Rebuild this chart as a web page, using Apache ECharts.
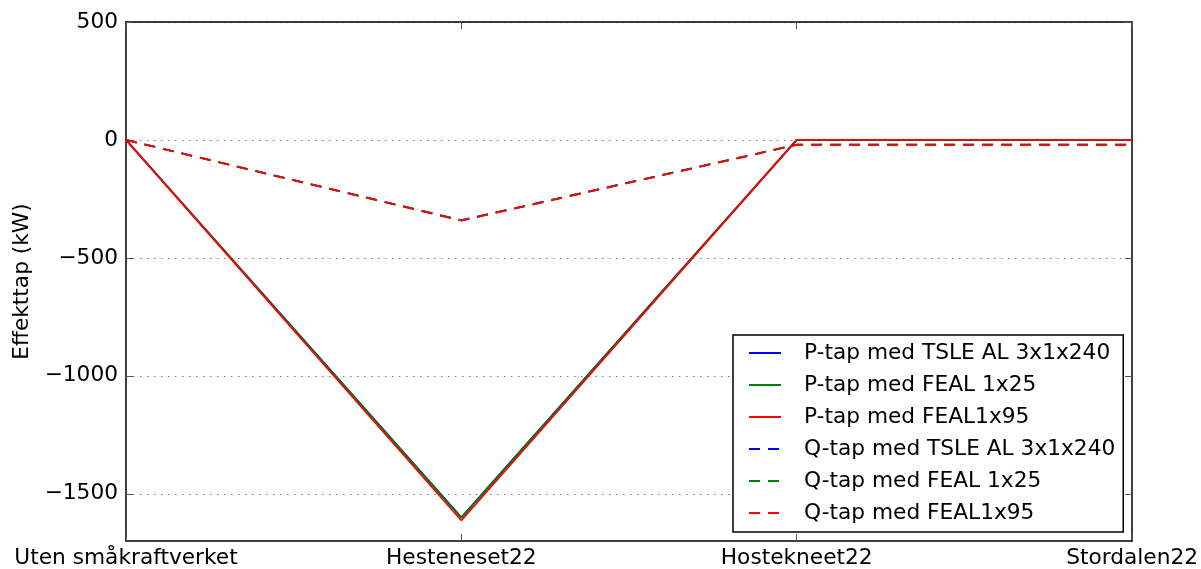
<!DOCTYPE html>
<html>
<head>
<meta charset="utf-8">
<script src="https://cdn.jsdelivr.net/npm/echarts@6/dist/echarts.min.js"></script>
<style>html,body{margin:0;padding:0;background:#fff;}#c{width:1201px;height:569px;}</style>
</head>
<body>
<div id="c"></div>
<script>
const categories = ['Uten småkraftverket', 'Hesteneset22', 'Hostekneet22', 'Stordalen22'];
const pTapTSLE = [0, -1600, 0, 0];
const pTapFEAL25 = [0, -1602, 0, 0];
const pTapFEAL95 = [0, -1613, 0, 0];
const qTapTSLE = [0, -340, -20, -20];
const qTapFEAL25 = [0, -341, -20, -20];
const qTapFEAL95 = [0, -342, -21, -21];
const yTicks = [-1500, -1000, -500, 0, 500];
const seriesNames = ['P-tap med TSLE AL 3x1x240', 'P-tap med FEAL 1x25', 'P-tap med FEAL1x95',
  'Q-tap med TSLE AL 3x1x240', 'Q-tap med FEAL 1x25', 'Q-tap med FEAL1x95'];

const FONT = 'DejaVu Sans';
const FS = 21.7;
const dash = [11, 8];
function mk(name, data, color, dashed) {
  return {
    name: name, type: 'line', data: data, symbol: 'none', animation: false,
    lineStyle: { color: color, width: 1.8, type: dashed ? dash : 'solid' },
    itemStyle: { color: color }
  };
}
const chart = echarts.init(document.getElementById('c'), null, { renderer: 'canvas' });
chart.setOption({
  backgroundColor: '#fff',
  animation: false,
  grid: { left: 126, right: 67, top: 22, bottom: 27, containLabel: false },
  legend: {
    left: 733, top: 335, orient: 'vertical',
    borderColor: '#000', borderWidth: 1.5, backgroundColor: '#fff',
    padding: [7, 8, 8, 15],
    itemWidth: 32, itemHeight: 22, itemGap: 10,
    itemStyle: { color: 'rgba(0,0,0,0)', borderWidth: 0, opacity: 0 },
    textStyle: { fontFamily: FONT, fontSize: FS, color: '#000', lineHeight: 22, padding: [0, 0, 0, 18] },
    data: seriesNames
  },
  xAxis: [{
    type: 'category', data: categories, boundaryGap: false, position: 'bottom',
    axisLine: { onZero: false, lineStyle: { color: '#000', width: 1.5 } },
    axisTick: { inside: true, length: 7, lineStyle: { color: '#555' } },
    axisLabel: { fontFamily: FONT, fontSize: FS, color: '#000', margin: 6, interval: 0, hideOverlap: false },
    splitLine: { show: false }
  }, {
    type: 'category', data: categories, boundaryGap: false, position: 'top',
    axisLine: { onZero: false, lineStyle: { color: '#000', width: 1.5 } },
    axisTick: { inside: true, length: 7, lineStyle: { color: '#555' } },
    axisLabel: { show: false }, splitLine: { show: false }
  }],
  yAxis: [{
    type: 'value', min: -1700, max: 500, position: 'left',
    name: 'Effekttap (kW)', nameLocation: 'middle', nameRotate: 90, nameGap: 88,
    nameTextStyle: { fontFamily: FONT, fontSize: FS, color: '#000' },
    axisLine: { show: true, onZero: false, lineStyle: { color: '#000', width: 1.5 } },
    axisTick: { show: true, inside: true, length: 7, customValues: yTicks, lineStyle: { color: '#555' } },
    axisLabel: { fontFamily: FONT, fontSize: FS, color: '#000', margin: 8, customValues: yTicks,
      formatter: v => (v < 0 ? '\u2212' + Math.abs(v) : String(v)) },
    splitLine: { show: true, lineStyle: { color: '#777', width: 1, type: [1.5, 5.5] } }
  }, {
    type: 'value', min: -1700, max: 500, position: 'right',
    axisLine: { show: true, onZero: false, lineStyle: { color: '#000', width: 1.5 } },
    axisTick: { show: true, inside: true, length: 7, customValues: yTicks, lineStyle: { color: '#555' } },
    axisLabel: { show: false }, splitLine: { show: false }
  }],
  series: [
    mk(seriesNames[0], pTapTSLE, '#0000ff', false),
    mk(seriesNames[1], pTapFEAL25, '#008000', false),
    mk(seriesNames[2], pTapFEAL95, '#ff0000', false),
    mk(seriesNames[3], qTapTSLE, '#0000ff', true),
    mk(seriesNames[4], qTapFEAL25, '#008000', true),
    mk(seriesNames[5], qTapFEAL95, '#ff0000', true)
  ]
});
</script>
</body>
</html>
